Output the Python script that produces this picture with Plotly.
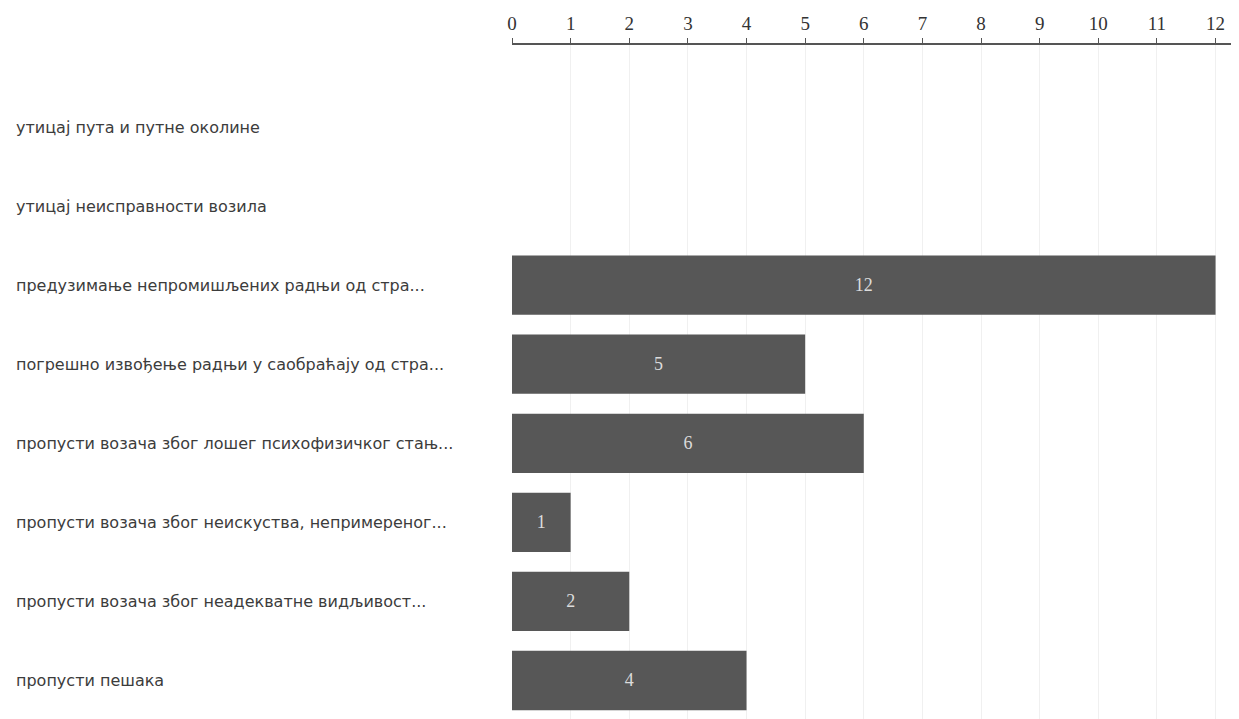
import plotly.graph_objects as go

categories = [
    "утицај пута и путне околине",
    "утицај неисправности возила",
    "предузимање непромишљених радњи од стра...",
    "погрешно извођење радњи у саобраћају од стра...",
    "пропусти возача због лошег психофизичког стањ...",
    "пропусти возача због неискуства, непримереног...",
    "пропусти возача због неадекватне видљивост...",
    "пропусти пешака",
]
values = [0, 0, 12, 5, 6, 1, 2, 4]
x_ticks = list(range(0, 13))

fig = go.Figure()
fig.add_trace(go.Bar(
    y=list(range(len(categories))),
    x=values,
    orientation="h",
    marker=dict(color="#575757", line=dict(width=0)),
    text=[str(v) if v else "" for v in values],
    textposition="inside",
    insidetextanchor="middle",
    textfont=dict(family="Liberation Serif", size=18, color="#dcdcdc"),
    hovertext=categories,
))

for i, c in enumerate(categories):
    fig.add_annotation(
        x=0, xref="paper", xshift=-498, xanchor="left",
        y=i, yref="y", yanchor="middle",
        text=c, showarrow=False,
        font=dict(family="DejaVu Sans", size=16, color="#3c3c3c"),
    )

fig.update_layout(
    width=1231, height=711,
    margin=dict(l=504, r=0, t=37, b=0),
    paper_bgcolor="white", plot_bgcolor="white",
    bargap=0.25, showlegend=False,
)
fig.update_xaxes(
    range=[0, 12.4], side="top", tickvals=x_ticks,
    tickfont=dict(family="Liberation Serif", size=19, color="#333"),
    showline=True, linecolor="#555", linewidth=2,
    ticks="outside", ticklen=5, tickcolor="#555",
    showgrid=True, gridcolor="#f0f0f0", zeroline=False,
)
fig.update_yaxes(
    range=[7.487, -1.037], tickvals=[], showticklabels=False,
    showgrid=False, zeroline=False, showline=False,
)

fig.write_html("out.html")
